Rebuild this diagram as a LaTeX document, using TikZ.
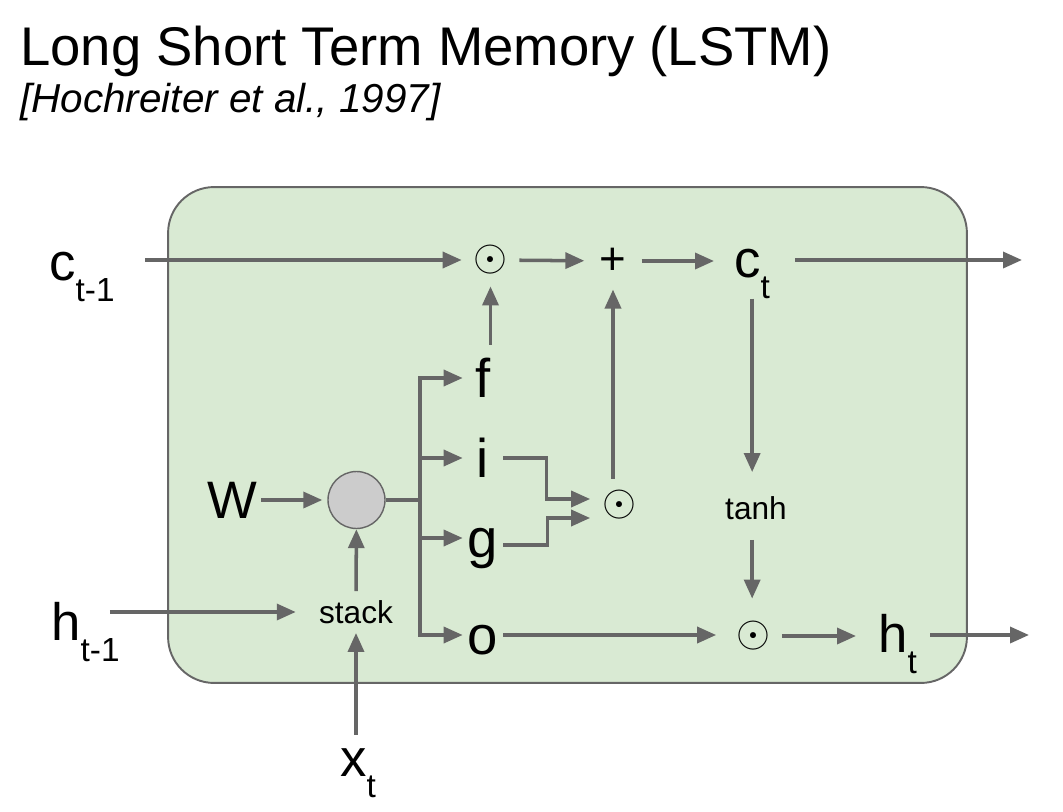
\documentclass[tikz,border=0pt]{standalone}
\usepackage{fontspec}
\setmainfont{Liberation Sans}
\usetikzlibrary{positioning,arrows.meta,calc}

\definecolor{cellgreen}{HTML}{D9EAD3}
\definecolor{linegray}{HTML}{666666}
\definecolor{opgray}{HTML}{CCCCCC}

% lowered subscript as on the slide
\newcommand{\lowsub}[1]{\raisebox{-12pt}{\fontsize{19}{19}\selectfont #1}}

\begin{document}
\begin{tikzpicture}[
  x=0.02cm, y=-0.02cm,
  cell/.style={rectangle,rounded corners=9.2mm,draw=linegray,line width=1.1pt,fill=cellgreen,
               minimum width=159.8mm,minimum height=99.2mm,inner sep=0pt},
  lbl/.style={font=\fontsize{30}{30}\selectfont,inner sep=0pt,anchor=base west},
  gate/.style={font=\fontsize{31}{31}\selectfont,inner sep=0pt,minimum width=8mm,
               text height=21.7pt,text depth=0pt},
  op/.style={font=\fontsize{25}{25}\selectfont,inner sep=2.3mm},
  fn/.style={font=\fontsize{18}{18}\selectfont,inner sep=1.8mm},
  matmul/.style={circle,draw=linegray,line width=0.8pt,fill=opgray,minimum size=11.4mm,inner sep=0pt},
  ln/.style={line width=2pt,draw=linegray},
  arr/.style={ln,-{Triangle[length=3.8mm,width=3.2mm]}},
]
\useasboundingbox (0,0) rectangle (1063,812);

\node[anchor=base west,inner sep=0pt,font=\fontsize{31}{31}\selectfont] (title) at (20,65)
   {Long Short Term Memory (LSTM)};
\node[anchor=base west,inner sep=0pt,font=\fontsize{23}{23}\selectfont\itshape] (cite) at (20,112)
   {[Hochreiter et al., 1997]};

\node[cell] (cell) at (567.5,435) {};

% cell state row
\node[lbl] (cprev) at (49,280) {c\lowsub{t-1}};
\node[op] (mul1) at (490.5,260) {$\odot$};
\node[font=\fontsize{26}{26}\selectfont,inner sep=3mm] (plus) at (613,261) {+};
\node[lbl] (ct) at (734,277) {c\lowsub{t}};
\coordinate (cout) at (1022,260);

% gates
\node[gate] (fgate) at (483,378) {f};
\node[gate] (igate) at (483,458) {i};
\node[gate] (ggate) at (483,538) {g};
\node[gate] (ogate) at (483,635) {o};

% inputs
\node[lbl,anchor=center] (W) at (232,500) {W};
\node[matmul] (wmul) at (356.5,500) {};
\coordinate (split) at (420,500);
\node[fn] (stack) at (356,612) {stack};
\node[lbl] (hprev) at (51,640) {h\lowsub{t-1}};
\node[lbl] (xt) at (340,776) {x\lowsub{t}};

\node[op] (mul2) at (619,505) {$\odot$};
\node[fn] (tanh) at (756,508) {tanh};
\node[op] (mul3) at (753,636) {$\odot$};
\node[lbl] (ht) at (878,652) {h\lowsub{t}};
\coordinate (hout) at (1029,635);

\draw[arr,shorten <=6mm] (cprev.east |- mul1) -- (mul1);
\draw[arr] (mul1) -- (plus);
\draw[arr,shorten >=4mm] (plus) -- (plus -| ct.west);
\draw[arr,shorten <=5mm] (ct.east |- cout) -- (cout);
\draw[arr,shorten <=2.8mm] (mul1 |- fgate.north) -- (mul1);
\draw[arr] (plus |- mul2.north) -- (plus);

\draw[arr,shorten <=0.8mm,shorten >=1mm] (W) -- (wmul);
\draw[arr,shorten <=-2mm,shorten >=2.8mm] (hprev.east |- stack) -- (stack);
\draw[arr,shorten <=2.6mm] (stack.south |- xt.north) -- (stack.south);
\draw[arr] (stack) -- (wmul);
\draw[ln] (wmul) -- (split);
\foreach \g in {fgate,igate,ggate,ogate}
  \draw[arr] (split) |- (\g.west);

\draw[arr] (igate.east) -- ++(43,0) |- ([yshift=1.2mm]mul2.west);
\draw[arr] ([yshift=-1.4mm]ggate.east) -- ++(44,0) |- ([yshift=-2.6mm]mul2.west);

\draw[arr,shorten >=3mm] (ct.south) -- (ct.south |- tanh.north);
\draw[arr,shorten <=2.2mm,shorten >=2.2mm] (ct.south |- tanh.south) -- (ct.south |- mul3.north);
\draw[arr,shorten >=1.6mm] (ogate.east) -- (ogate.east -| mul3.west);
\draw[arr,shorten >=4.4mm] (mul3) -- (mul3 -| ht.west);
\draw[arr,shorten <=2.6mm] (ht.east |- hout) -- (hout);
\end{tikzpicture}
\end{document}
